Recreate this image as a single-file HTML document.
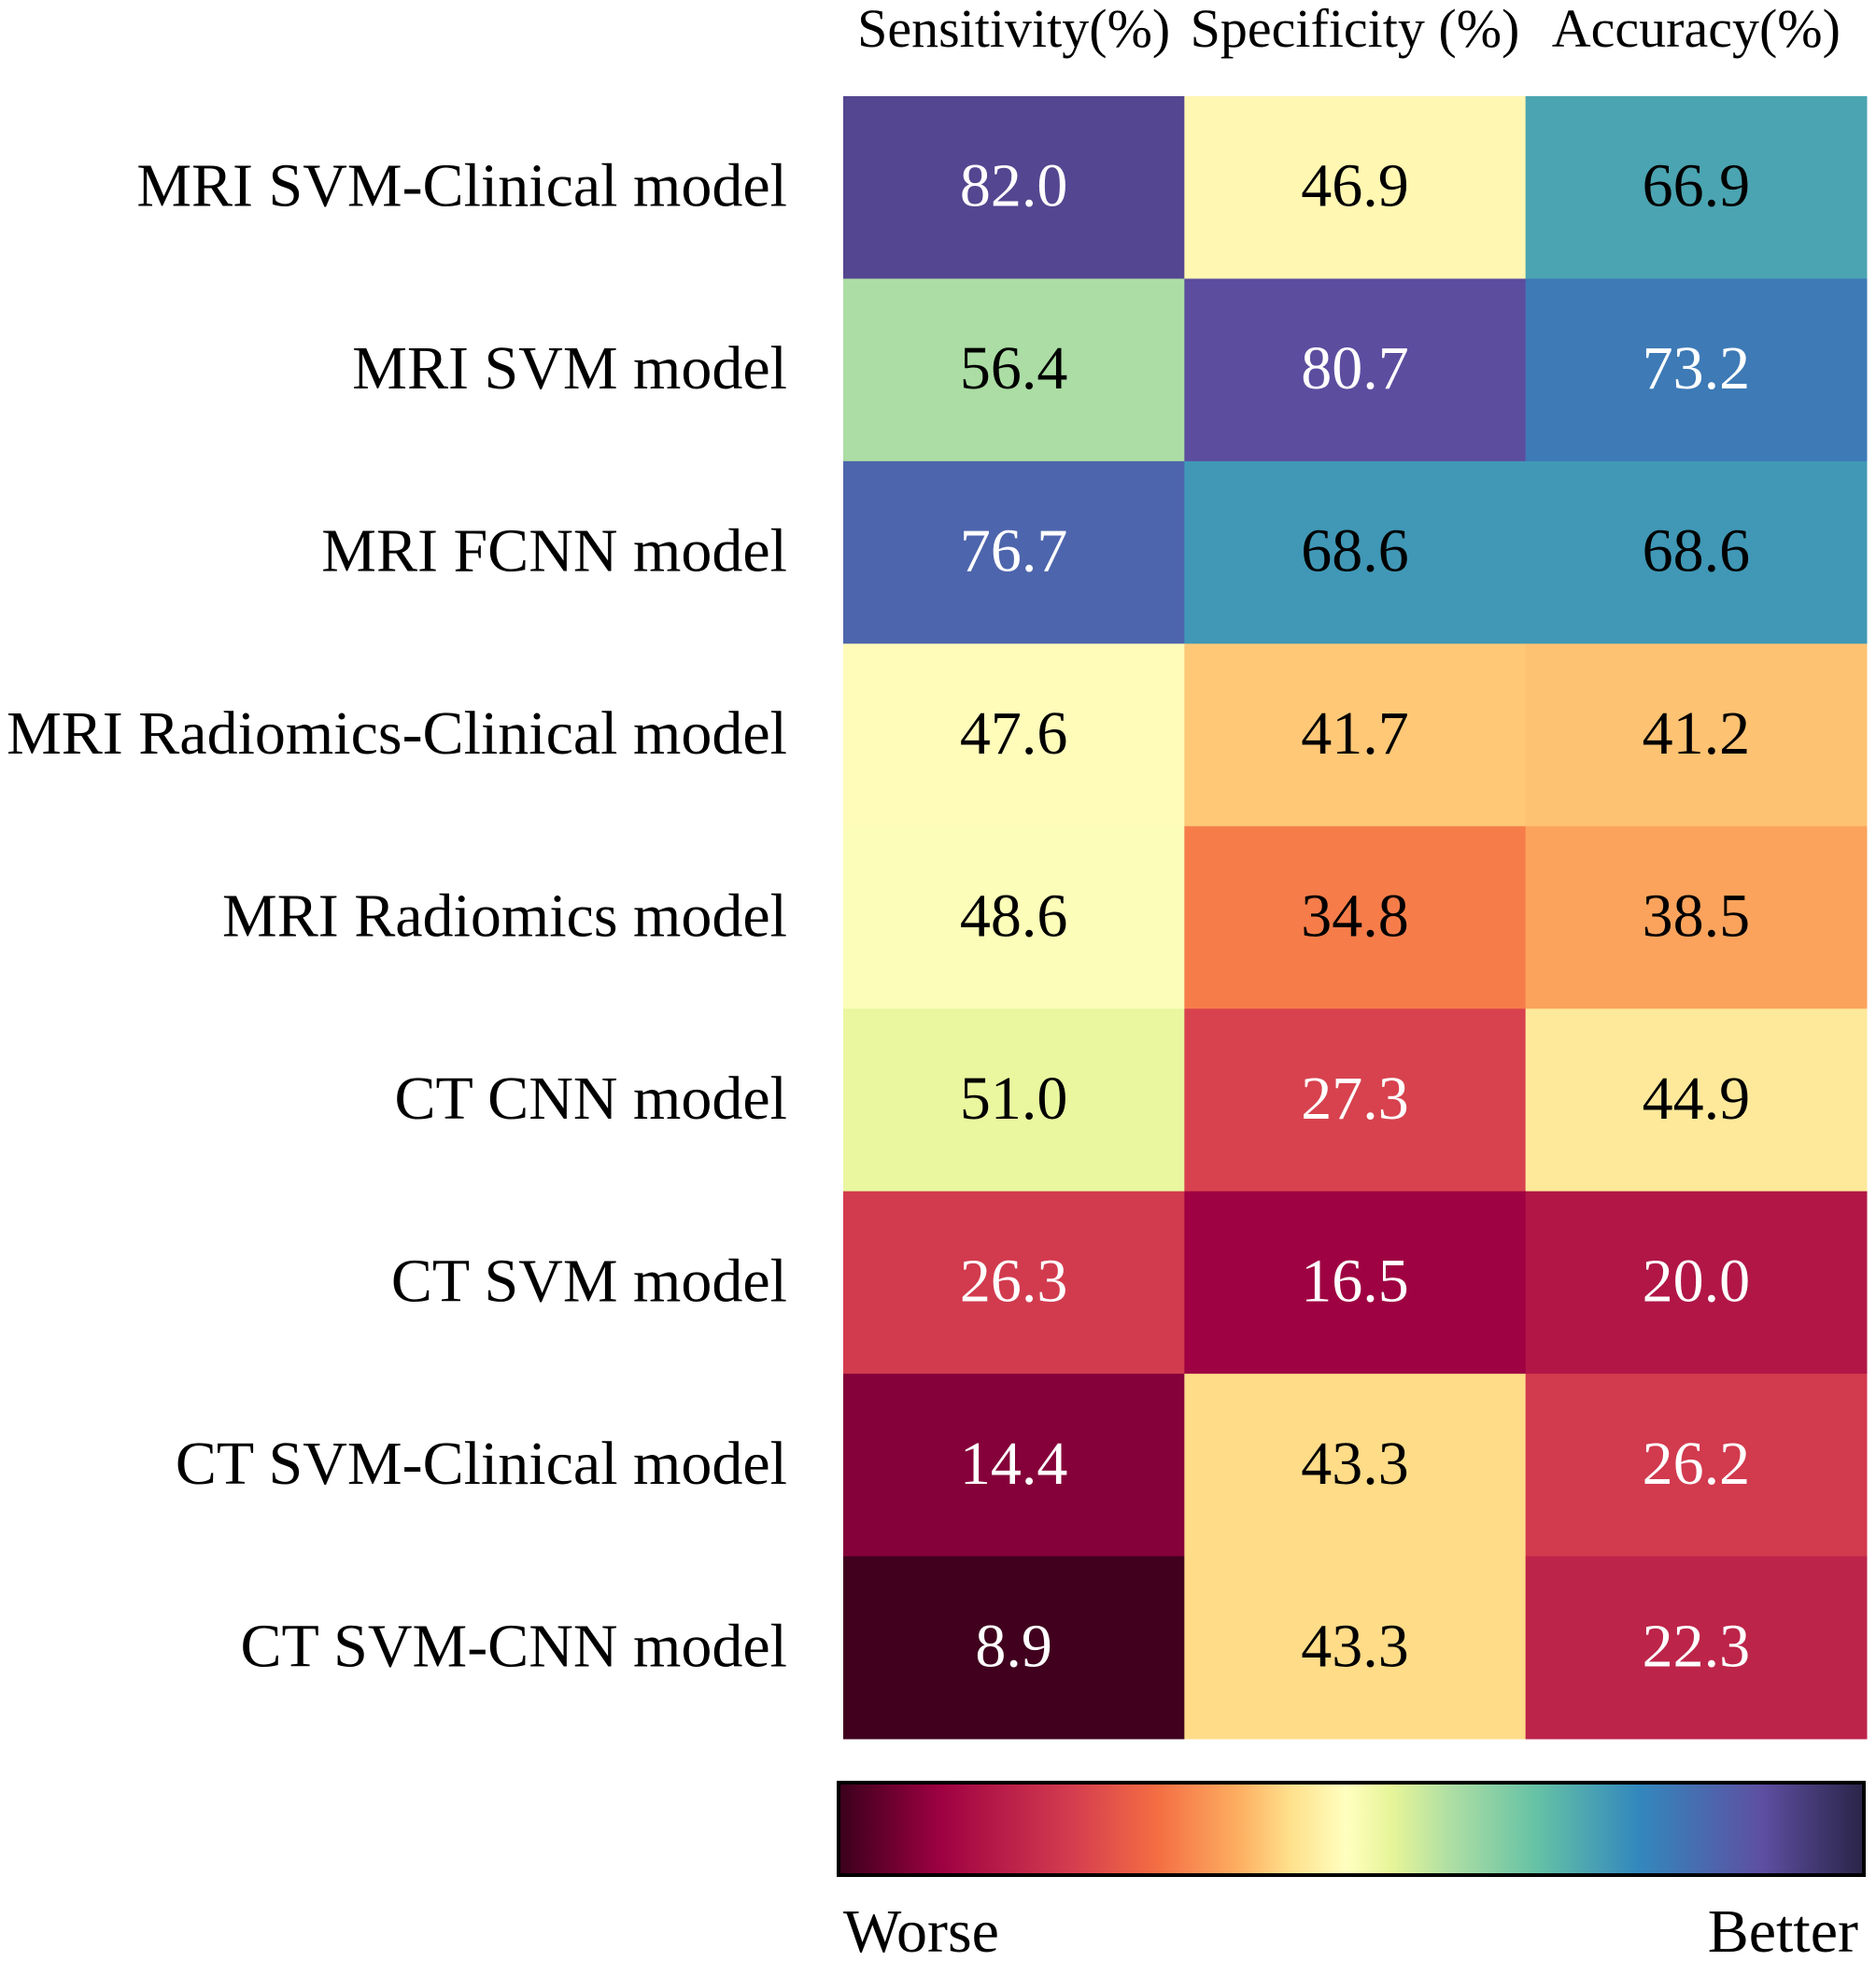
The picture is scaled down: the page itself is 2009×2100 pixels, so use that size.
<!DOCTYPE html>
<html><head><meta charset="utf-8"><style>
html,body{margin:0;padding:0;background:#fff;}
svg{display:block;font-family:"Liberation Serif",serif;}
</style></head><body>
<svg id="chart" width="2009" height="2100" viewBox="0 0 2009 2100" xmlns="http://www.w3.org/2000/svg">
<defs>
<linearGradient id="cbar" x1="0" x2="1" y1="0" y2="0">
<stop offset="0" stop-color="#3a001c"/><stop offset="0.1" stop-color="#9e0142"/><stop offset="0.23" stop-color="#d53e4f"/>
<stop offset="0.31" stop-color="#f46d43"/><stop offset="0.39" stop-color="#fdae61"/><stop offset="0.44" stop-color="#fee08b"/>
<stop offset="0.495" stop-color="#ffffbf"/><stop offset="0.54" stop-color="#e6f598"/><stop offset="0.6" stop-color="#abdda4"/>
<stop offset="0.68" stop-color="#66c2a5"/><stop offset="0.78" stop-color="#3288bd"/><stop offset="0.9" stop-color="#5e4fa2"/>
<stop offset="1" stop-color="#2a2448"/>
</linearGradient>
</defs>
<g id="cells"></g>
<rect x="898" y="1909" width="1098" height="99" fill="url(#cbar)" stroke="#000" stroke-width="4"/>
<text x="903" y="2090" font-size="66">Worse</text>
<text x="1990" y="2090" font-size="66" text-anchor="end">Better</text>
</svg>
<script>
const rows = ["MRI SVM-Clinical model","MRI SVM model","MRI FCNN model","MRI Radiomics-Clinical model","MRI Radiomics model","CT CNN model","CT SVM model","CT SVM-Clinical model","CT SVM-CNN model"];
const cols = ["Sensitivity(%)","Specificity (%)","Accuracy(%)"];
const sensitivity = [82.0,56.4,76.7,47.6,48.6,51.0,26.3,14.4,8.9];
const specificity = [46.9,80.7,68.6,41.7,34.8,27.3,16.5,43.3,43.3];
const accuracy = [66.9,73.2,68.6,41.2,38.5,44.9,20.0,26.2,22.3];
const colorDomain = [8.4, 88.4];

const series=[sensitivity,specificity,accuracy];
const stops=[[0,"#3a001c"],[0.1,"#9e0142"],[0.23,"#d53e4f"],[0.31,"#f46d43"],[0.39,"#fdae61"],[0.44,"#fee08b"],[0.495,"#ffffbf"],[0.54,"#e6f598"],[0.6,"#abdda4"],[0.68,"#66c2a5"],[0.78,"#3288bd"],[0.9,"#5e4fa2"],[1,"#2a2448"]];
function hex(h){return [1,3,5].map(i=>parseInt(h.substr(i,2),16));}
function color(t){t=Math.max(0,Math.min(1,t));for(let i=1;i<stops.length;i++){if(t<=stops[i][0]){const a=stops[i-1],b=stops[i];const f=(t-a[0])/(b[0]-a[0]);const c1=hex(a[1]),c2=hex(b[1]);return "rgb("+c1.map((v,k)=>Math.round(v+(c2[k]-v)*f)).join(",")+")";}}return stops[stops.length-1][1];}
const x0=903,x1=1999,y0=103,y1=1862;
const cw=(x1-x0)/cols.length,rh=(y1-y0)/rows.length;
const xPos=j=>x0+j*cw, yPos=i=>y0+i*rh;
const NS="http://www.w3.org/2000/svg";
const g=document.getElementById("cells");
function mk(tag,attrs){const e=document.createElementNS(NS,tag);for(const k in attrs)e.setAttribute(k,attrs[k]);return e;}
cols.forEach((c,j)=>{
  const t=mk("text",{x:xPos(j)+cw/2,y:50,"font-size":58,"text-anchor":"middle"});
  
  
  t.textContent=c;g.appendChild(t);
});
rows.forEach((r,i)=>{
  const t=mk("text",{x:843,y:yPos(i)+rh/2+20,"font-size":66,"text-anchor":"end"});
  
  
  t.textContent=r;g.appendChild(t);
  series.forEach((s,j)=>{
    const v=s[i];const tt=(v-colorDomain[0])/(colorDomain[1]-colorDomain[0]);
    const rc=mk("rect",{x:xPos(j),y:yPos(i),width:cw+0.5,height:rh+0.5,fill:color(tt)});
    
    
    g.appendChild(rc);
    const lt=mk("text",{x:xPos(j)+cw/2,y:yPos(i)+rh/2+20,"font-size":66,"text-anchor":"middle",fill:(tt<0.25||tt>0.77)?"#fff":"#000"});
    
    
    lt.textContent=v.toFixed(1);g.appendChild(lt);
  });
});
</script>
</body></html>
